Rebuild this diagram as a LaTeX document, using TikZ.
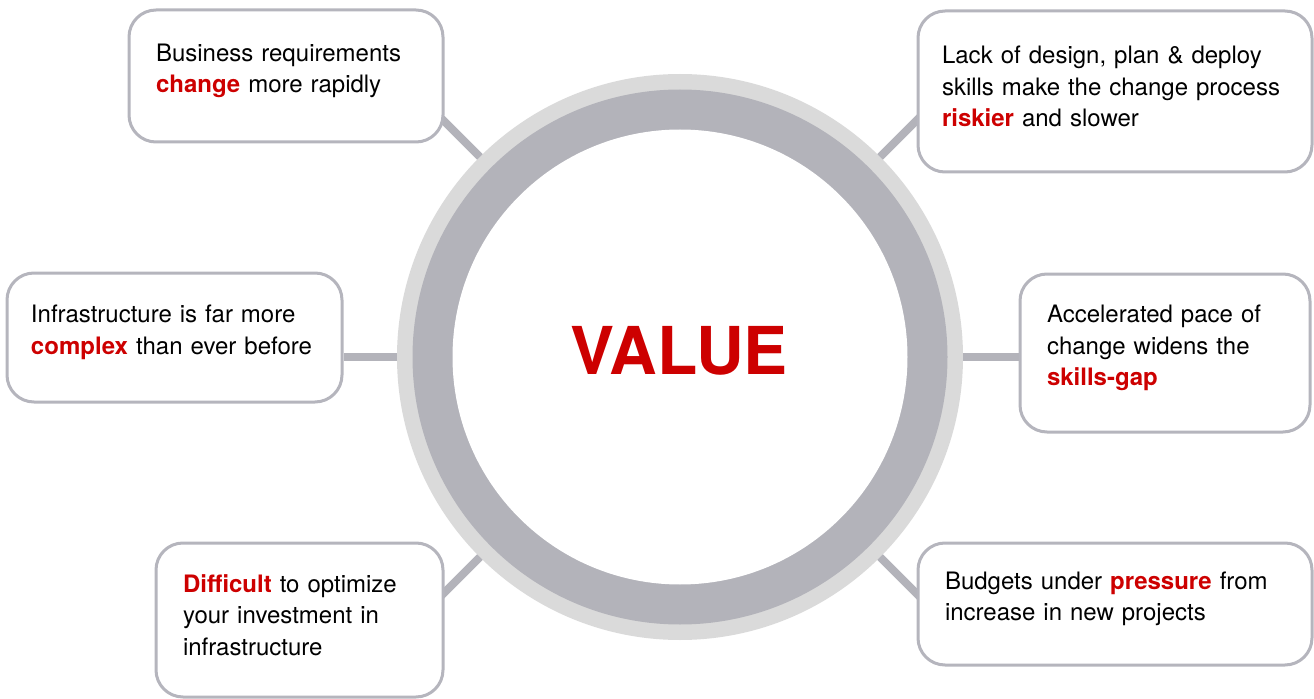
\documentclass[tikz,border=0pt]{standalone}
\usepackage{fontspec}
\setmainfont[WordSpace=0.85]{TeX Gyre Heros}

\definecolor{vred}{HTML}{CD0000}
\definecolor{ringlight}{HTML}{DADADA}
\definecolor{ringdark}{HTML}{B3B3BA}
\definecolor{boxline}{HTML}{B5B5BD}

\newcommand{\hot}[1]{\textcolor{vred}{\bfseries #1}}

\tikzset{
  issue/.style={draw=boxline, line width=1.5pt, fill=white, rounded corners=13.5pt,
    align=left, inner xsep=13.5pt, inner ysep=0pt,
    execute at end node={\par\vspace{5pt}},
    font=\fontsize{12}{15.75}\selectfont},
  link/.style={draw=ringdark, line width=4pt}
}

\begin{document}
\begin{tikzpicture}[x=0.5pt, y=0.5pt]
          \useasboundingbox (0,0) rectangle (1314,698);

          \node[circle, fill=ringlight, minimum size=283pt, inner sep=0pt, outer sep=0pt] (ring) at (680,341) {};
          \fill[ringdark] (ring.center) circle (267.5);
          \fill[white] (ring.center) circle (227.5);
          \node[text=vred, font=\fontsize{33}{33}\selectfont\bfseries] (value) at (679,347.5) {VALUE};

          \coordinate (e1) at ([shift={(135:345)}]ring.center);
          \coordinate (e3) at ([shift={(45:345)}]ring.center);
          \coordinate (e5) at ([shift={(225:345)}]ring.center);
          \coordinate (e6) at ([shift={(-45:345)}]ring.center);
          \draw[link] (ring.135) -- (e1);
          \draw[link] (ring.45) -- (e3);
          \draw[link] (ring.225) -- (e5);
          \draw[link] (ring.-45) -- (e6);

          \node[issue, text width=130pt, minimum height=66pt] (b1) at (286,622)
            {Business requirements\\ \hot{change} more rapidly};
          \node[issue, inner xsep=12pt, text width=143.5pt, minimum height=64.5pt] (b2) at (174.5,360.5)
            {Infrastructure is far more\\ \hot{complex} than ever before};
          \node[issue, inner xsep=12pt, text width=173pt, minimum height=80.5pt] (b3) at (1115,606.5)
            {Lack of design, plan \& deploy\\ skills make the change process\\ \hot{riskier} and slower};
          \node[issue, text width=118pt, minimum height=79pt] (b4) at (1165,345)
            {Accelerated pace of\\ change widens the\\ \hot{skills-gap}};
          \node[issue, text width=116.5pt, minimum height=77pt] (b5) at (299.5,78)
            {\hot{Difficult} to optimize\\ your investment in\\ infrastructure};
          \node[issue, text width=170pt, minimum height=61pt] (b6) at (1115,94)
            {Budgets under \hot{pressure} from\\ increase in new projects};

          \draw[link] (ring.west) -- (ring.west -| b2.east);
          \draw[link] (ring.east) -- (ring.east -| b4.west);

\end{tikzpicture}
\end{document}
